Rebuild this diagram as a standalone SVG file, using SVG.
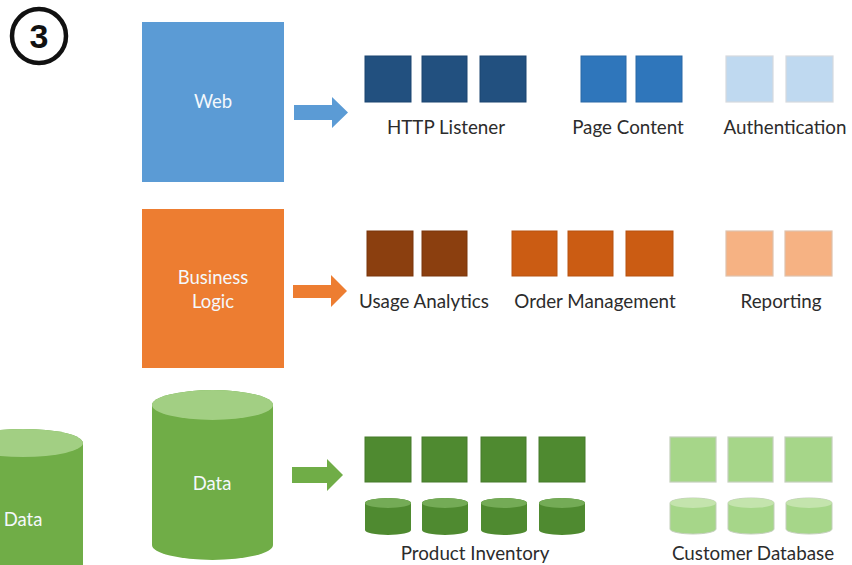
<svg xmlns="http://www.w3.org/2000/svg" width="852" height="565" viewBox="0 0 852 565">
<style>
.lbl{font-family:"Lato","Liberation Sans",sans-serif;font-size:18.8px;fill:#2c2c2c;text-anchor:middle}
.wlbl{font-family:"Lato","Liberation Sans",sans-serif;font-size:18.5px;fill:#f4f8fc;text-anchor:middle}
.navy{fill:#22507f;stroke:#1b4470;stroke-width:1}
.mblue{fill:#2f76bb;stroke:#2a68a6;stroke-width:1}
.lblue{fill:#bfd9f0;stroke:#d6d9de;stroke-width:1.2}
.brown{fill:#8b3f0f;stroke:#7a360c;stroke-width:1}
.dorange{fill:#cb5c13;stroke:#b75210;stroke-width:1}
.lorange{fill:#f6b283;stroke:#e0c2ac;stroke-width:1.2}
.dgreen{fill:#4f8a30;stroke:#467b2b;stroke-width:1}
.lgreen{fill:#a6d689;stroke:#c3cfbb;stroke-width:1.2}
</style>
<defs>
<g id="cylD"><path d="M0,5 A23,5 0 0 1 46,5 V32 A23,5 0 0 1 0,32 Z" fill="#4f8a30"/><ellipse cx="23" cy="5" rx="23" ry="5" fill="#74ab56"/></g>
<g id="cylL"><path d="M0,5 A23,5 0 0 1 46,5 V31 A23,5 0 0 1 0,31 Z" fill="#a6d689" stroke="#c3cfbb" stroke-width="1"/><ellipse cx="23" cy="5" rx="23" ry="5" fill="#c4e4ad"/></g>
</defs>

<g id="step-badge">
<circle cx="39" cy="36" r="27" fill="none" stroke="#111" stroke-width="4.5"/>
<text x="39" y="48" font-family="Liberation Sans, sans-serif" font-weight="bold" font-size="34" fill="#111" text-anchor="middle">3</text>
</g>

<g id="data-left">
<path d="M-37,443 A60,14 0 0 1 83,443 V600 H-37 Z" fill="#70ad47"/>
<ellipse cx="23" cy="443" rx="60" ry="14" fill="#a2cf83"/>
<text class="wlbl" x="23" y="526">Data</text>
</g>

<g id="web">
<rect x="142" y="22" width="142" height="160" fill="#5b9bd5"/>
<text class="wlbl" x="213" y="108">Web</text>
</g>

<g id="business-logic">
<rect x="142" y="209" width="142" height="159" fill="#ed7d31"/>
<text class="wlbl" x="213" y="284">Business</text>
<text class="wlbl" x="213" y="308">Logic</text>
</g>

<g id="data">
<path d="M152,405 A60.5,15 0 0 1 273,405 V545 A60.5,15 0 0 1 152,545 Z" fill="#70ad47"/>
<ellipse cx="212.5" cy="405" rx="60.5" ry="15" fill="#a2cf83"/>
<text class="wlbl" x="212" y="490">Data</text>
</g>

<g id="connectors">
<polygon points="294,105 332,105 332,97 348,112.5 332,128 332,120 294,120" fill="#5b9bd5"/>
<polygon points="293,285 331,285 331,275 347,291 331,307 331,298 293,298" fill="#ed7d31"/>
<polygon points="292,467 327,467 327,459 343,475 327,491 327,483 292,483" fill="#70ad47"/>
</g>

<g id="http-listener">
<rect class="navy" x="365" y="56" width="46" height="46"/>
<rect class="navy" x="422" y="56" width="45" height="46"/>
<rect class="navy" x="480" y="56" width="46" height="46"/>
<text class="lbl" x="446" y="134">HTTP Listener</text>
</g>

<g id="page-content">
<rect class="mblue" x="581" y="56" width="45" height="46"/>
<rect class="mblue" x="636" y="56" width="46" height="46"/>
<text class="lbl" x="628" y="134">Page Content</text>
</g>

<g id="authentication">
<rect class="lblue" x="726" y="56" width="47" height="46"/>
<rect class="lblue" x="786" y="56" width="47" height="46"/>
<text class="lbl" x="785" y="134">Authentication</text>
</g>

<g id="usage-analytics">
<rect class="brown" x="367" y="231" width="46" height="45"/>
<rect class="brown" x="422" y="231" width="45" height="45"/>
<text class="lbl" x="424" y="308">Usage Analytics</text>
</g>

<g id="order-management">
<rect class="dorange" x="512" y="231" width="45" height="45"/>
<rect class="dorange" x="568" y="231" width="45" height="45"/>
<rect class="dorange" x="626" y="231" width="47" height="45"/>
<text class="lbl" x="595" y="308">Order Management</text>
</g>

<g id="reporting">
<rect class="lorange" x="726" y="231" width="47" height="45"/>
<rect class="lorange" x="785" y="231" width="47" height="45"/>
<text class="lbl" x="781" y="308">Reporting</text>
</g>

<g id="product-inventory">
<rect class="dgreen" x="365" y="437" width="46" height="45"/>
<rect class="dgreen" x="422" y="437" width="45" height="45"/>
<rect class="dgreen" x="481" y="437" width="45" height="45"/>
<rect class="dgreen" x="539" y="437" width="46" height="45"/>
<use href="#cylD" x="365" y="498"/>
<use href="#cylD" x="422" y="498"/>
<use href="#cylD" x="481" y="498"/>
<use href="#cylD" x="539" y="498"/>
<text class="lbl" x="475" y="560">Product Inventory</text>
</g>

<g id="customer-database">
<rect class="lgreen" x="670" y="437" width="46" height="45"/>
<rect class="lgreen" x="728" y="437" width="45" height="45"/>
<rect class="lgreen" x="785" y="437" width="47" height="45"/>
<use href="#cylL" x="670" y="498"/>
<use href="#cylL" x="728" y="498"/>
<use href="#cylL" x="786" y="498"/>
<text class="lbl" x="753" y="560">Customer Database</text>
</g>
</svg>
